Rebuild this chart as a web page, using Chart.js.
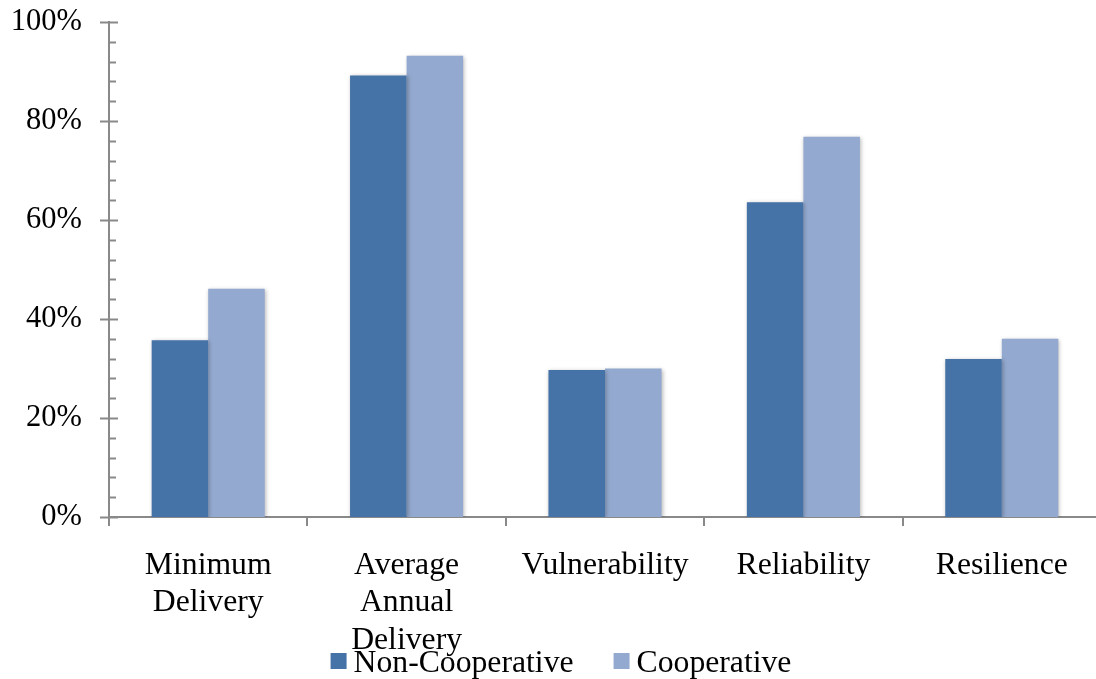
<!DOCTYPE html>
<html>
<head>
<meta charset="utf-8">
<script src="https://cdn.jsdelivr.net/npm/chart.js@4"></script>
<style>
html,body{margin:0;padding:0;background:#fff;overflow:hidden;width:1096px;height:679px;}
#wrap{position:absolute;left:-5px;top:0;width:1106px;height:679px;}
</style>
</head>
<body>
<div id="wrap"><canvas id="c" width="1106" height="679"></canvas></div>
<script>
const categories = [['Minimum','Delivery'], ['Average','Annual','Delivery'], 'Vulnerability', 'Reliability', 'Resilience'];
const seriesNames = ['Non-Cooperative', 'Cooperative'];
const nonCooperative = [35.7, 89.2, 29.7, 63.6, 31.9];
const cooperative = [46.1, 93.2, 30.0, 76.8, 36.0];
const yTicks = [0, 20, 40, 60, 80, 100];

const AXIS = '#898989';
const FONT = "'Liberation Serif', 'Times New Roman', serif";
const YSIZE = 30.5;
const XSIZE = 31.7;

const tickMarks = {
  id: 'tickMarks',
  afterDraw(chart) {
    const y = chart.scales.y;
    const ctx = chart.ctx;
    const x0 = y.right;
    ctx.save();
    ctx.strokeStyle = AXIS;
    for (let i = 0; i <= 25; i++) {
      const v = i * 4;
      const py = Math.round(y.getPixelForValue(v)) + 0.5;
      ctx.lineWidth = 2;
      ctx.beginPath();
      if (v % 20 === 0) { ctx.moveTo(x0 - 9, py); ctx.lineTo(x0 + 9, py); }
      else { ctx.moveTo(x0, py); ctx.lineTo(x0 + 7, py); }
      ctx.stroke();
    }
    ctx.restore();
  }
};

const barShadow = {
  id: 'barShadow',
  beforeDatasetsDraw(chart) {
    const ctx = chart.ctx;
    ctx.save();
    ctx.shadowColor = 'rgba(0,0,0,0.28)';
    ctx.shadowBlur = 4;
    ctx.shadowOffsetX = 1;
    ctx.shadowOffsetY = 1;
  },
  afterDatasetsDraw(chart) { chart.ctx.restore(); }
};

const customLegend = {
  id: 'customLegend',
  afterDraw(chart) {
    const ctx = chart.ctx;
    ctx.save();
    ctx.font = XSIZE + 'px ' + FONT;
    const ds = chart.data.datasets;
    const box = 16, gapText = 7, gapItem = 40;
    const widths = ds.map(d => ctx.measureText(d.label).width);
    let total = 0;
    widths.forEach((w, i) => { total += box + gapText + w + (i < widths.length - 1 ? gapItem : 0); });
    let x = 566 - total / 2;
    const baseline = 672;
    ds.forEach((d, i) => {
      ctx.fillStyle = d.backgroundColor;
      ctx.fillRect(x, 653, box, box);
      ctx.fillStyle = '#000';
      ctx.textBaseline = 'alphabetic';
      ctx.textAlign = 'left';
      ctx.fillText(d.label, x + box + gapText, baseline);
      x += box + gapText + widths[i] + gapItem;
    });
    ctx.restore();
  }
};

new Chart(document.getElementById('c'), {
  type: 'bar',
  data: {
    labels: categories,
    datasets: [
      { label: seriesNames[0], data: nonCooperative, backgroundColor: '#4572A7', borderWidth: 0,
        categoryPercentage: 0.57, barPercentage: 1.0 },
      { label: seriesNames[1], data: cooperative, backgroundColor: '#93A9CF', borderWidth: 0,
        categoryPercentage: 0.57, barPercentage: 1.0 }
    ]
  },
  options: {
    responsive: false,
    animation: false,
    devicePixelRatio: 1,
    layout: { padding: { top: 22, left: 0, right: 0, bottom: 0 } },
    plugins: { legend: { display: false }, tooltip: { enabled: false } },
    scales: {
      x: {
        offset: true,
        grid: { display: true, offset: true, drawOnChartArea: false, drawTicks: true, tickLength: 9, color: AXIS, lineWidth: 2 },
        border: { display: true, color: AXIS, width: 2 },
        ticks: { color: '#000', font: { family: FONT, size: XSIZE, lineHeight: 1.18 }, padding: 21, maxRotation: 0, autoSkip: false },
        afterFit(scale) { scale.height = 162; scale.paddingLeft = 0; scale.paddingRight = 0; }
      },
      y: {
        min: 0, max: 100,
        afterBuildTicks(scale) { scale.ticks = yTicks.map(v => ({ value: v })); },
        grid: { display: false },
        border: { display: true, color: AXIS, width: 2 },
        ticks: { color: '#000', font: { family: FONT, size: YSIZE }, padding: 19, callback: v => v + '%' },
        afterFit(scale) { scale.width = 114; scale.paddingTop = 0; scale.paddingBottom = 0; }
      }
    }
  },
  plugins: [barShadow, tickMarks, customLegend]
});
</script>
</body>
</html>
